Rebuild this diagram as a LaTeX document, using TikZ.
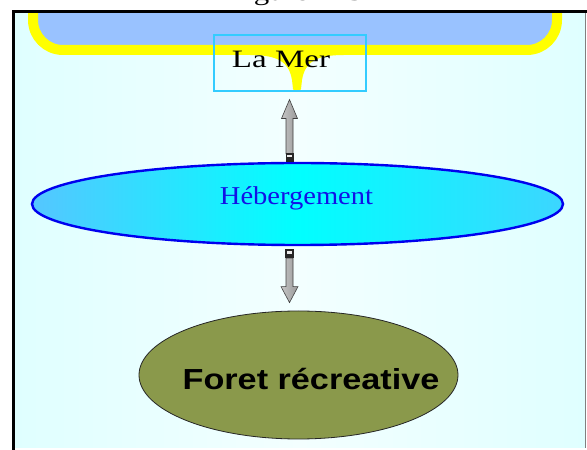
\documentclass[tikz,border=0pt]{standalone}
\usepackage{graphicx}
\usepackage{fontspec}
\setmainfont{Liberation Serif}
\newfontfamily\arialfont{Liberation Sans}
\usetikzlibrary{calc,shapes.geometric}
\definecolor{bgcyan}{HTML}{DFFFFF}
\definecolor{bglight}{HTML}{F3FFFF}
\definecolor{seablue}{HTML}{99C2FF}
\definecolor{boxcyan}{HTML}{33CCFF}
\definecolor{hebleft}{HTML}{55C6FF}
\definecolor{hebright}{HTML}{3CD6FF}
\definecolor{hebtext}{HTML}{1212E6}
\definecolor{hebborder}{HTML}{0000EE}
\definecolor{forestolive}{HTML}{8A994B}
\definecolor{seayellow}{HTML}{FFFF00}
\begin{document}
\begin{tikzpicture}[x=1pt,y=1pt,
  seabox/.style={draw=boxcyan, line width=1.1, rectangle, minimum width=152, minimum height=56, inner sep=0},
  hebstyle/.style={ellipse, draw=hebborder, line width=2.4, left color=hebleft, right color=hebright, middle color=cyan, minimum width=531, minimum height=82, inner sep=0},
  foreststyle/.style={ellipse, draw=black!85, line width=0.8, fill=forestolive, minimum width=319, minimum height=128, inner sep=0},
  arrowbody/.style={draw=black!75, line width=0.6, left color=gray!45, middle color=gray!8, right color=gray!80},
  blockcol/.style={fill=black!85},
  lbl/.style={anchor=base, inner sep=0}]
\useasboundingbox (0,0) rectangle (587,450);
\fill[white] (0,0) rectangle (587,450);
% title (clipped by the frame)
\begin{scope}
  \clip (0,439) rectangle (587,450);
  \node[lbl] (title) at (295.5,449.5) {\fontsize{24}{28}\selectfont\scalebox{1.29}[1]{Figure 225}};
\end{scope}
% background
\shade[left color=bgcyan, right color=bgcyan, middle color=bglight] (14,2) rectangle (585,438);
% sea
\begin{scope}
  \clip (14,0) rectangle (585,438);
  \filldraw[fill=seablue, draw=seayellow, line width=10, rounded corners=30]
    (33,470) -- (33,400) -- (557,400) -- (557,470);
  \fill[seayellow] (250,402) -- (250,395) .. controls (278,395) and (289,388) .. (292,370)
    -- (293,361) .. controls (294,357) and (300,357) .. (301,361)
    -- (302,370) .. controls (305,388) and (316,395) .. (344,395) -- (344,402) -- cycle;
\end{scope}
% frame
\draw[line width=3] (13.5,0) -- (13.5,438.5) -- (587,438.5);
\draw[gray, line width=1] (585.5,2) -- (585.5,437);
% nodes
\node[seabox] (lamer) at (290,387) {};
\node[lbl] (lamerlabel) at (281,382) {\fontsize{25}{30}\selectfont\scalebox{1.32}[1]{La Mer}};
\node[hebstyle] (heb) at (297.5,246) {};
\node[lbl, text=hebtext] (heblabel) at (296.5,245) {\fontsize{25.7}{30}\selectfont\scalebox{1.11}[1]{Hébergement}};
\node[foreststyle] (foret) at (298.5,75) {};
\node[lbl] (foretlabel) at (311,60) {\arialfont\bfseries\fontsize{29}{34}\selectfont\scalebox{1.18}[1]{Foret récreative}};
% up arrow: Hebergement -> La Mer
\coordinate (u0) at ($(heb.north)+(-8,0)$);
\coordinate (u1) at ($(lamer.south)+(-0.5,-8)$);
\draw[arrowbody] let \p1=(u0), \p2=(u1) in
  (\x1-3.5,\y1+8) -- (\x1-3.5,\y2-19) -- (\x1-8,\y2-19) -- (\x2,\y2)
  -- (\x1+8,\y2-19) -- (\x1+3.5,\y2-19) -- (\x1+3.5,\y1+8) -- cycle;
\fill[blockcol] let \p1=(u0) in (\x1-4,\y1) rectangle (\x1+4,\y1+8.5);
\fill[white!85!gray] let \p1=(u0) in (\x1-2.2,\y1+4.5) rectangle (\x1+2.2,\y1+7);
% down arrow: Hebergement -> Foret
\coordinate (d0) at ($(heb.south)+(-8,-3)$);
\coordinate (d1) at ($(foret.north)+(-9,8)$);
\draw[arrowbody] let \p1=(d0), \p2=(d1) in
  (\x1-3.5,\y1-9) -- (\x1-3.5,\y2+16) -- (\x1-8.5,\y2+16) -- (\x2,\y2)
  -- (\x1+8.5,\y2+16) -- (\x1+3.5,\y2+16) -- (\x1+3.5,\y1-9) -- cycle;
\fill[blockcol] let \p1=(d0) in (\x1-4.5,\y1) rectangle (\x1+4.5,\y1-9);
\fill[white!85!gray] let \p1=(d0) in (\x1-2.2,\y1-2) rectangle (\x1+2.2,\y1-4.5);
\end{tikzpicture}
\end{document}
